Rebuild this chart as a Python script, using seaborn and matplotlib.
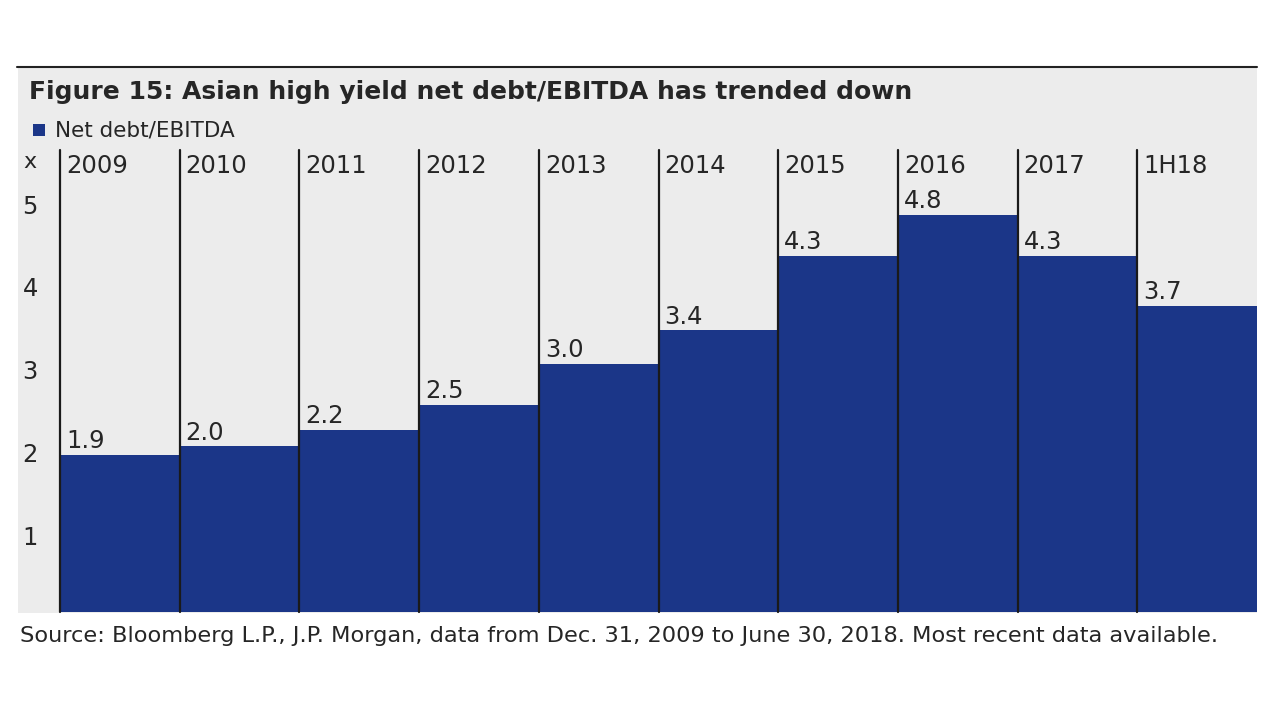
import matplotlib
matplotlib.use("Agg")
import matplotlib.pyplot as plt
import matplotlib.patches as mpatches
import matplotlib.transforms as mtransforms
import seaborn as sns
import pandas as pd

# data
periods = ["2009", "2010", "2011", "2012", "2013", "2014", "2015", "2016", "2017", "1H18"]
net_debt_ebitda = [1.9, 2.0, 2.2, 2.5, 3.0, 3.4, 4.3, 4.8, 4.3, 3.7]
y_ticks = [1, 2, 3, 4, 5]

title = "Figure 15: Asian high yield net debt/EBITDA has trended down"
legend_label = "Net debt/EBITDA"
source = "Source: Bloomberg L.P., J.P. Morgan, data from Dec. 31, 2009 to June 30, 2018. Most recent data available."

bar_color = "#1b3688"
panel_grey = "#ececec"
text_color = "#262626"

sns.set_theme(style="white")
plt.rcParams["font.family"] = ["DejaVu Sans"]

df = pd.DataFrame({"period": periods, "value": net_debt_ebitda})

fig = plt.figure(figsize=(12.8, 7.2), dpi=100)
fig.patch.set_facecolor("white")

# grey panel behind everything + black rule on top
fig.add_artist(mpatches.Rectangle((18 / 1280, 1 - 613 / 720), 1239 / 1280, 545 / 720,
                                  transform=fig.transFigure, facecolor=panel_grey,
                                  edgecolor="none", zorder=0))
fig.add_artist(plt.Line2D([17 / 1280, 1257 / 1280], [1 - 67 / 720] * 2,
                          transform=fig.transFigure, color="#222222", lw=1.5, zorder=1))

ax = fig.add_axes([60 / 1280, 1 - 612 / 720, 1197 / 1280, 462 / 720])
ax.set_facecolor(panel_grey)
sns.barplot(data=df, x="period", y="value", color=bar_color, saturation=1,
            width=1.0, ax=ax, zorder=2)
for p in ax.patches:
    p.set_edgecolor("none")

ymax = 5.58
ax.set_ylim(0, ymax)
ax.set_xlim(-0.5, len(periods) - 0.5)

# vertical dividers at the left edge of every bar
for i in range(len(periods)):
    ax.axvline(i - 0.5, color="#1a1a1a", lw=1.6, zorder=3, clip_on=False)

# period labels along the top, value labels above bars
dx = mtransforms.ScaledTranslation(6 / 100, 0, fig.dpi_scale_trans)
for i, (lab, v) in enumerate(zip(periods, net_debt_ebitda)):
    ax.text(i - 0.5, ymax - 0.05, lab, ha="left", va="top", fontsize=17.5,
            color=text_color, transform=ax.transData + dx, zorder=4)
    ax.text(i - 0.5, v + 0.02, f"{v:.1f}", ha="left", va="bottom", fontsize=17.5,
            color=text_color, transform=ax.transData + dx, zorder=4)

ax.set_yticks(y_ticks)
ax.set_yticklabels([str(t) for t in y_ticks], fontsize=17.5, color=text_color)
ax.tick_params(axis="y", length=0, pad=16)
down = mtransforms.ScaledTranslation(0, -6 / 100, fig.dpi_scale_trans)
for lbl in ax.get_yticklabels():
    lbl.set_transform(lbl.get_transform() + down)
ax.set_xticks([])
ax.set_xlabel("")
ax.set_ylabel("")
for s in ax.spines.values():
    s.set_visible(False)

# unit marker at top of y axis
fig.text(30 / 1280, 1 - 162 / 720, "x", fontsize=16, color=text_color, ha="center", va="center")

fig.text(29 / 1280, 1 - 92 / 720, title, fontsize=18, fontweight="bold",
         color=text_color, ha="left", va="center")

# legend
fig.add_artist(mpatches.Rectangle((33 / 1280, 1 - 136 / 720), 12 / 1280, 12 / 720,
                                  transform=fig.transFigure, facecolor=bar_color,
                                  edgecolor="none", zorder=2))
fig.text(55 / 1280, 1 - 130 / 720, legend_label, fontsize=15.5, color=text_color,
         ha="left", va="center")

fig.text(20 / 1280, 1 - 636 / 720, source, fontsize=16.2, color=text_color,
         ha="left", va="center")

fig.savefig("out.png", dpi=100, facecolor=fig.get_facecolor())
